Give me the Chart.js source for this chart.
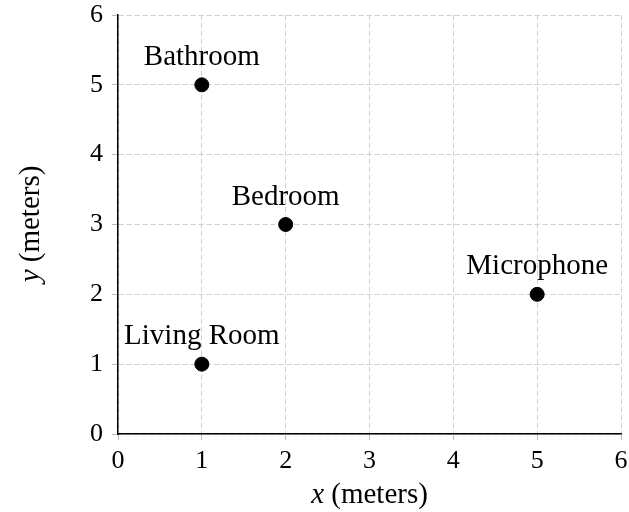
<!DOCTYPE html>
<html>
<head>
<meta charset="utf-8">
<script src="https://cdn.jsdelivr.net/npm/chart.js@4.4.1/dist/chart.umd.min.js"></script>
<style>
  html, body { margin: 0; padding: 0; background: #fff; }
  #wrap { width: 629px; height: 512px; position: relative; }
</style>
</head>
<body>
<div id="wrap"><canvas id="roomChart"></canvas></div>
<script>
// Room positions in meters
const roomNames = ['Living Room', 'Bedroom', 'Bathroom', 'Microphone'];
const xValues = [1, 2, 1, 5];
const yValues = [1, 3, 5, 2];
const axisMin = 0;
const axisMax = 6;

const serif = "'Liberation Serif', 'Times New Roman', serif";

Chart.defaults.font.family = serif;
Chart.defaults.font.size = 26;
Chart.defaults.color = '#000';

// Text label above each point
const pointLabels = {
  id: 'pointLabels',
  afterDatasetsDraw(chart) {
    const ctx = chart.ctx;
    const meta = chart.getDatasetMeta(0);
    ctx.save();
    ctx.fillStyle = '#000';
    ctx.font = `29px ${serif}`;
    ctx.textAlign = 'center';
    ctx.textBaseline = 'alphabetic';
    meta.data.forEach((pt, i) => {
      ctx.fillText(roomNames[i], pt.x, pt.y - 20);
    });
    ctx.restore();
  }
};

// Axis titles with italic variable names
const axisTitles = {
  id: 'axisTitles',
  afterDraw(chart) {
    const ctx = chart.ctx;
    const area = chart.chartArea;
    const drawTitle = (v, rest) => {
      ctx.font = `italic 29px ${serif}`;
      const w1 = ctx.measureText(v).width;
      ctx.font = `29px ${serif}`;
      const w2 = ctx.measureText(rest).width;
      const start = -(w1 + w2) / 2;
      ctx.font = `italic 29px ${serif}`;
      ctx.fillText(v, start, 0);
      ctx.font = `29px ${serif}`;
      ctx.fillText(rest, start + w1, 0);
    };
    ctx.save();
    ctx.fillStyle = '#000';
    ctx.textAlign = 'left';
    ctx.textBaseline = 'middle';
    ctx.translate((area.left + area.right) / 2, 495);
    drawTitle('x', ' (meters)');
    ctx.restore();

    ctx.save();
    ctx.fillStyle = '#000';
    ctx.textAlign = 'left';
    ctx.textBaseline = 'middle';
    ctx.translate(31, 224);
    ctx.rotate(-Math.PI / 2);
    drawTitle('y', ' (meters)');
    ctx.restore();
  }
};

const gridStyle = {
  color: '#cfcfcf',
  lineWidth: 1,
  tickLength: 6,
  tickColor: '#bdbdbd',
  tickBorderDash: []
};

// Fix axis box sizes and drop the extra room Chart.js keeps for edge labels
function fixBox(scale, size) {
  if (scale.isHorizontal()) scale.height = size;
  else scale.width = size;
  scale.paddingTop = 0;
  scale.paddingBottom = 0;
  scale.paddingLeft = 0;
  scale.paddingRight = 0;
}

new Chart(document.getElementById('roomChart'), {
  type: 'scatter',
  data: {
    datasets: [{
      data: xValues.map((x, i) => ({ x: x, y: yValues[i] })),
      backgroundColor: '#000',
      borderColor: '#000',
      pointRadius: 7,
      pointHoverRadius: 7
    }]
  },
  options: {
    responsive: true,
    maintainAspectRatio: false,
    animation: false,
    layout: { padding: { top: 15, right: 7, left: 0, bottom: 0 } },
    plugins: {
      legend: { display: false },
      tooltip: { enabled: false }
    },
    scales: {
      x: {
        type: 'linear',
        min: axisMin,
        max: axisMax,
        ticks: { stepSize: 1, color: '#000', font: { family: serif, size: 26 }, padding: 6, maxRotation: 0 },
        grid: gridStyle,
        border: { display: true, color: '#000', width: 1.5, dash: [5, 3] },
        afterFit: scale => fixBox(scale, 78)
      },
      y: {
        type: 'linear',
        min: axisMin,
        max: axisMax,
        ticks: { stepSize: 1, color: '#000', font: { family: serif, size: 26 }, padding: 9 },
        grid: gridStyle,
        border: { display: true, color: '#000', width: 1.5, dash: [5, 3] },
        afterFit: scale => fixBox(scale, 118)
      }
    }
  },
  plugins: [pointLabels, axisTitles]
});
</script>
</body>
</html>
